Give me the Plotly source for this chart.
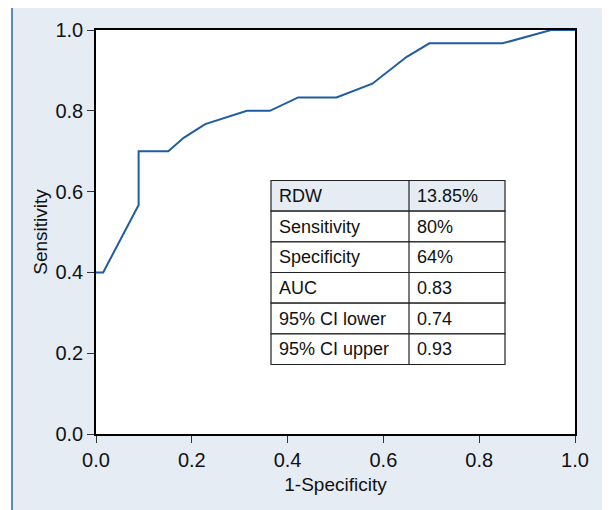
import plotly.graph_objects as go

# ROC curve points (1-Specificity, Sensitivity)
fpr = [0.0, 0.015, 0.089, 0.089, 0.151, 0.183, 0.228, 0.315, 0.363, 0.422, 0.502, 0.577, 0.648, 0.696, 0.849, 0.95, 1.0]
tpr = [0.4, 0.4, 0.567, 0.7, 0.7, 0.733, 0.767, 0.8, 0.8, 0.833, 0.833, 0.867, 0.933, 0.967, 0.967, 1.0, 1.0]

# Table contents
table_labels = ["RDW", "Sensitivity", "Specificity", "AUC", "95% CI lower", "95% CI upper"]
table_values = ["13.85%", "80%", "64%", "0.83", "0.74", "0.93"]

tick_vals = [0.0, 0.2, 0.4, 0.6, 0.8, 1.0]
tick_text = ["0.0", "0.2", "0.4", "0.6", "0.8", "1.0"]

FONT = "Liberation Sans, Arial, sans-serif"
BG = "#e5ecf4"
FRAME = "#2e66a8"
LINE = "#1f5ca3"

# the page body adds an 8px offset; compensate
OFF = 8
W, H = 610 - OFF, 510 - OFF
ML = 96 - OFF
MT = 30 - OFF
MR = W - (575 - OFF)
MB = H - (434 - OFF)
PW = W - ML - MR
PH = H - MT - MB


def px_to_paper_x(px):
    return (px - OFF - ML) / PW


def px_to_paper_y(py):
    return (H - MB - (py - OFF)) / PH


fig = go.Figure()
fig.add_trace(go.Scatter(x=fpr, y=tpr, mode="lines",
                         line=dict(color=LINE, width=2), hoverinfo="skip",
                         showlegend=False, cliponaxis=False))

shapes = []
# white areas outside frame
shapes.append(dict(type="rect", xref="paper", yref="paper",
                   x0=px_to_paper_x(-5), x1=px_to_paper_x(12), y0=px_to_paper_y(520), y1=px_to_paper_y(-5),
                   fillcolor="white", line=dict(width=0), layer="below"))
shapes.append(dict(type="rect", xref="paper", yref="paper",
                   x0=px_to_paper_x(-5), x1=px_to_paper_x(615), y0=px_to_paper_y(6), y1=px_to_paper_y(-5),
                   fillcolor="white", line=dict(width=0), layer="below"))
shapes.append(dict(type="rect", xref="paper", yref="paper",
                   x0=px_to_paper_x(606), x1=px_to_paper_x(615), y0=px_to_paper_y(520), y1=px_to_paper_y(-5),
                   fillcolor="white", line=dict(width=0), layer="below"))
# frame border lines
shapes.append(dict(type="line", xref="paper", yref="paper",
                   x0=px_to_paper_x(12), x1=px_to_paper_x(12), y0=px_to_paper_y(520), y1=px_to_paper_y(6),
                   line=dict(color=FRAME, width=1.5)))
shapes.append(dict(type="line", xref="paper", yref="paper",
                   x0=px_to_paper_x(12), x1=px_to_paper_x(606), y0=px_to_paper_y(6), y1=px_to_paper_y(6),
                   line=dict(color=FRAME, width=1.5)))
shapes.append(dict(type="line", xref="paper", yref="paper",
                   x0=px_to_paper_x(606), x1=px_to_paper_x(606), y0=px_to_paper_y(520), y1=px_to_paper_y(6),
                   line=dict(color=FRAME, width=1.5)))

# table
tl, tr, tdiv = 271, 505, 409
ttop, tbot = 180.5, 364.5
n = len(table_labels)
rh = (tbot - ttop) / n
annotations = []
for i, (lab, val) in enumerate(zip(table_labels, table_values)):
    y0 = ttop + i * rh
    y1 = y0 + rh
    shapes.append(dict(type="rect", xref="paper", yref="paper",
                       x0=px_to_paper_x(tl), x1=px_to_paper_x(tr),
                       y0=px_to_paper_y(y1), y1=px_to_paper_y(y0),
                       fillcolor=BG if i == 0 else "white",
                       line=dict(color="#222222", width=1.2)))
    ymid = px_to_paper_y((y0 + y1) / 2)
    annotations.append(dict(x=px_to_paper_x(tl + 6), y=ymid, xref="paper", yref="paper",
                            text=lab, showarrow=False, xanchor="left", yanchor="middle",
                            font=dict(family=FONT, size=18, color="#111111")))
    annotations.append(dict(x=px_to_paper_x(tdiv + 6), y=ymid, xref="paper", yref="paper",
                            text=val, showarrow=False, xanchor="left", yanchor="middle",
                            font=dict(family=FONT, size=18, color="#111111")))
shapes.append(dict(type="line", xref="paper", yref="paper",
                   x0=px_to_paper_x(tdiv), x1=px_to_paper_x(tdiv),
                   y0=px_to_paper_y(tbot), y1=px_to_paper_y(ttop),
                   line=dict(color="#222222", width=1.2)))

axis_common = dict(range=[0, 1], showgrid=False, zeroline=False, showline=True,
                   linecolor="black", linewidth=1.5, mirror=True, ticks="outside",
                   ticklen=7, tickwidth=1.2, tickcolor="#333333",
                   tickvals=tick_vals, ticktext=tick_text,
                   tickfont=dict(family=FONT, size=20, color="#111111"))

fig.update_layout(
    width=W, height=H,
    margin=dict(l=ML, r=MR, t=MT, b=MB, pad=0),
    paper_bgcolor=BG, plot_bgcolor="white",
    xaxis=dict(**axis_common, title=dict(text="1-Specificity", standoff=8,
                                         font=dict(family=FONT, size=19, color="#111111"))),
    yaxis=dict(**axis_common, title=dict(text="Sensitivity", standoff=3,
                                         font=dict(family=FONT, size=19, color="#111111"))),
    shapes=shapes, annotations=annotations,
)

fig.write_html("out.html")
